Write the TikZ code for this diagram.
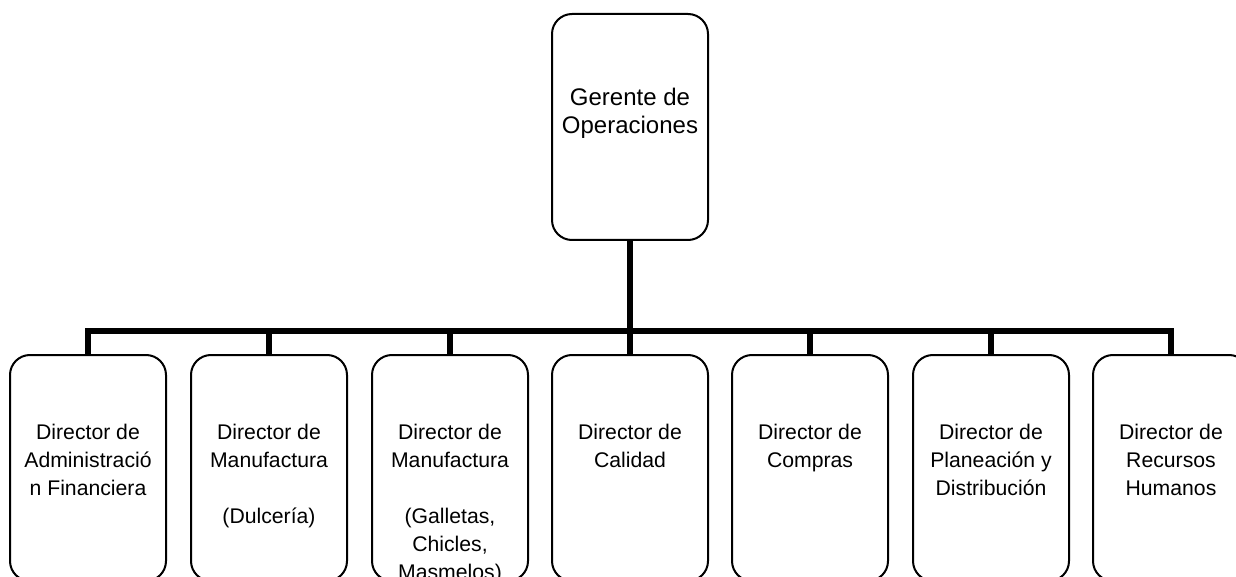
\documentclass[tikz,border=0pt]{standalone}
\usepackage{fontspec}
\setmainfont{Liberation Sans}
\usetikzlibrary{positioning}
\tikzset{
  unitbox/.style={
    rectangle, draw=black, line width=1pt, rounded corners=10pt, anchor=north,
    minimum width=78pt, minimum height=113pt, inner sep=0pt
  },
  unittext/.style={align=center, inner sep=0pt, font=\fontsize{10.6}{14}\selectfont},
  headtext/.style={unittext, font=\fontsize{12}{14}\selectfont},
  link/.style={line width=3.25pt}
}

\begin{document}
\begin{tikzpicture}[x=0.5pt, y=-0.5pt]
    \useasboundingbox (0,0) rectangle (1236,577);
    % head
    \node[unitbox] (gOp) at (630,13) {};
    \node[headtext, below=37.5pt of gOp.north] (tOp) {Gerente de\\Operaciones};
    % directors
    \node[unitbox] (dAF) at (88,354) {};
    \node[unitbox] (dMD) at (269,354) {};
    \node[unitbox] (dMG) at (450,354) {};
    \node[unitbox] (dCal) at (630,354) {};
    \node[unitbox] (dCom) at (810,354) {};
    \node[unitbox] (dPD) at (991,354) {};
    \node[unitbox] (dRH) at (1171,354) {};
    \node[unittext, below=35pt of dAF.north] (tAF) {Director de\\Administració\\n Financiera};
    \node[unittext, below=35pt of dMD.north] (tMD) {Director de\\Manufactura\\~\\(Dulcería)};
    \node[unittext, below=35pt of dMG.north] (tMG) {Director de\\Manufactura\\~\\(Galletas,\\Chicles,\\Masmelos)};
    \node[unittext, below=35pt of dCal.north] (tCal) {Director de\\Calidad};
    \node[unittext, below=35pt of dCom.north] (tCom) {Director de\\Compras};
    \node[unittext, below=35pt of dPD.north] (tPD) {Director de\\Planeación y\\Distribución};
    \node[unittext, below=35pt of dRH.north] (tRH) {Director de\\Recursos\\Humanos};
    % connectors
    \coordinate (bus) at (630,331);
    \draw[link] (gOp.south) -- (bus);
    \draw[link] (dAF.north) |- (bus) -| (dRH.north);
    \draw[link] (dMD.north) -- (dMD.north |- bus);
    \draw[link] (dMG.north) -- (dMG.north |- bus);
    \draw[link] (dCal.north) -- (bus);
    \draw[link] (dCom.north) -- (dCom.north |- bus);
    \draw[link] (dPD.north) -- (dPD.north |- bus);
\end{tikzpicture}
\end{document}
